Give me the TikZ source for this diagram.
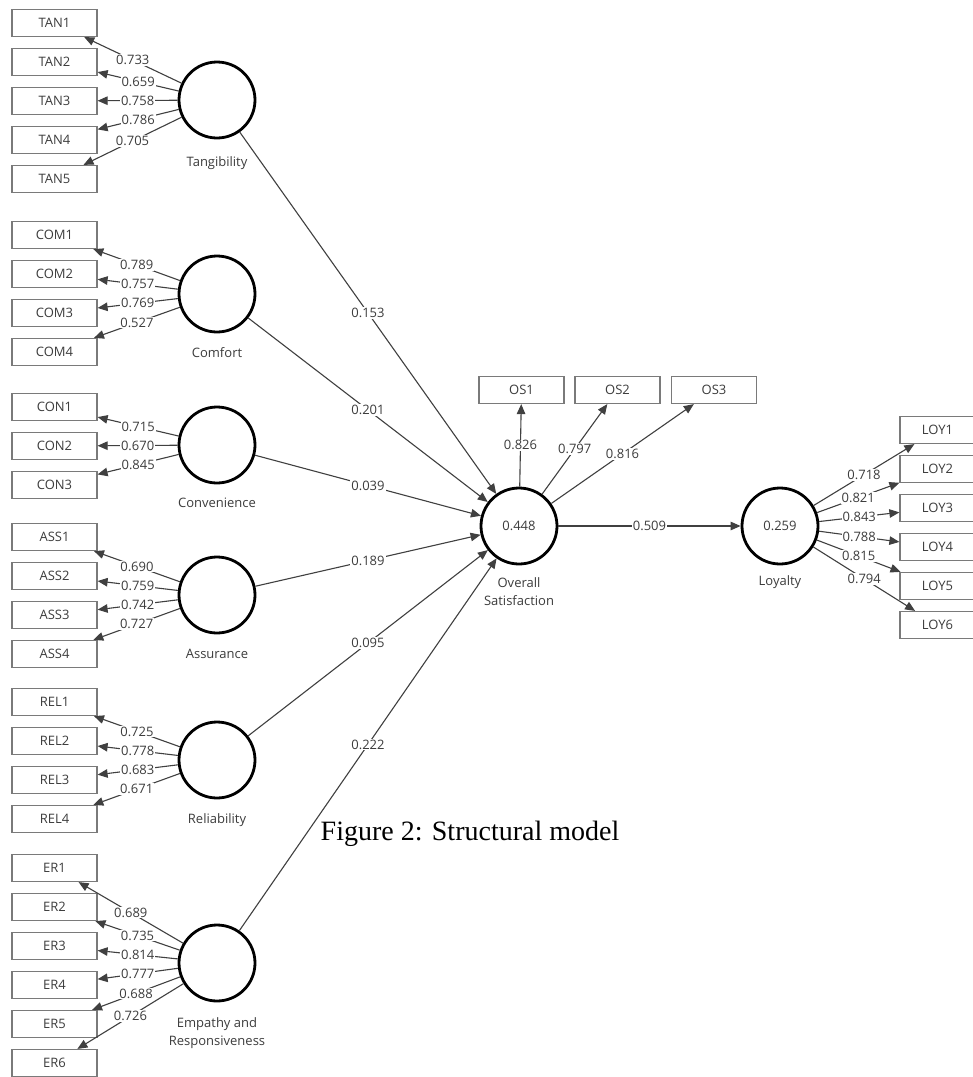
\documentclass[tikz,border=0pt]{standalone}
\usepackage{fontspec}
\setmainfont{Open Sans}
\newfontfamily\capfont{Liberation Serif}
\usetikzlibrary{arrows.meta}
\definecolor{txt}{HTML}{3C3C3C}
\definecolor{ln}{HTML}{404040}
\definecolor{bx}{HTML}{7A7A7A}
\begin{document}
\begin{tikzpicture}[x=1pt,y=-1pt,
 ind/.style={draw=bx,line width=1.2pt,minimum width=85pt,minimum height=27pt,inner sep=0pt,font=\fontsize{13}{14}\selectfont,text=txt},
 loyind/.style={ind,minimum width=75pt},
 lat/.style={circle,draw=black,line width=2.8pt,minimum size=76pt,inner sep=0pt,font=\fontsize{13}{14}\selectfont,text=txt},
 arr/.style={draw=ln,line width=1.1pt,-{Triangle[length=10pt,width=8.5pt]}},
 lab/.style={fill=white,inner sep=1pt,font=\fontsize{13}{14}\selectfont,text=txt},
 latcap/.style={font=\fontsize{13}{18}\selectfont,text=txt,align=center}]
\useasboundingbox[fill=white] (0,0) rectangle (973,1077);

% latent variables
\node[lat] (tan) at (217,100) {};
\node[lat] (com) at (217,294) {};
\node[lat] (con) at (217,445) {};
\node[lat] (ass) at (217,595) {};
\node[lat] (rel) at (217,760) {};
\node[lat] (er) at (217,963) {};
\node[lat] (os) at (519,526) {0.448};
\node[lat] (loy) at (780,526) {0.259};

% captions of latent variables
\node[latcap] (tanl) at (217,163) {Tangibility};
\node[latcap] (coml) at (217,353) {Comfort};
\node[latcap] (conl) at (217,503) {Convenience};
\node[latcap] (assl) at (217,654) {Assurance};
\node[latcap] (rell) at (217,820) {Reliability};
\node[latcap] (erl) at (217,1033) {Empathy and\\Responsiveness};
\node[latcap] (osl) at (519,592) {Overall\\Satisfaction};
\node[latcap] (loyl) at (780,582) {Loyalty};

% indicators
\node[ind] (tan1) at (54.5,23) {TAN1};
\node[ind] (tan2) at (54.5,62) {TAN2};
\node[ind] (tan3) at (54.5,101) {TAN3};
\node[ind] (tan4) at (54.5,140) {TAN4};
\node[ind] (tan5) at (54.5,179) {TAN5};

\node[ind] (com1) at (54.5,235) {COM1};
\node[ind] (com2) at (54.5,274) {COM2};
\node[ind] (com3) at (54.5,313) {COM3};
\node[ind] (com4) at (54.5,352) {COM4};

\node[ind] (con1) at (54.5,407) {CON1};
\node[ind] (con2) at (54.5,446) {CON2};
\node[ind] (con3) at (54.5,485) {CON3};

\node[ind] (ass1) at (54.5,537) {ASS1};
\node[ind] (ass2) at (54.5,576) {ASS2};
\node[ind] (ass3) at (54.5,615) {ASS3};
\node[ind] (ass4) at (54.5,654) {ASS4};

\node[ind] (rel1) at (54.5,702) {REL1};
\node[ind] (rel2) at (54.5,741) {REL2};
\node[ind] (rel3) at (54.5,780) {REL3};
\node[ind] (rel4) at (54.5,819) {REL4};

\node[ind] (er1) at (54.5,868) {ER1};
\node[ind] (er2) at (54.5,907) {ER2};
\node[ind] (er3) at (54.5,946) {ER3};
\node[ind] (er4) at (54.5,985) {ER4};
\node[ind] (er5) at (54.5,1024) {ER5};
\node[ind] (er6) at (54.5,1063) {ER6};

\node[ind] (os1) at (521.5,390) {OS1};
\node[ind] (os2) at (617.5,390) {OS2};
\node[ind] (os3) at (714,390) {OS3};

\node[loyind] (loy1) at (937.5,430) {LOY1};
\node[loyind] (loy2) at (937.5,469) {LOY2};
\node[loyind] (loy3) at (937.5,508) {LOY3};
\node[loyind] (loy4) at (937.5,547) {LOY4};
\node[loyind] (loy5) at (937.5,586) {LOY5};
\node[loyind] (loy6) at (937.5,625) {LOY6};

% outer loadings
\draw[arr] (tan) -- node[lab]{0.733} (tan1);
\draw[arr] (tan) -- node[lab]{0.659} (tan2);
\draw[arr] (tan) -- node[lab]{0.758} (tan3);
\draw[arr] (tan) -- node[lab]{0.786} (tan4);
\draw[arr] (tan) -- node[lab]{0.705} (tan5);

\draw[arr] (com) -- node[lab]{0.789} (com1);
\draw[arr] (com) -- node[lab]{0.757} (com2);
\draw[arr] (com) -- node[lab]{0.769} (com3);
\draw[arr] (com) -- node[lab]{0.527} (com4);

\draw[arr] (con) -- node[lab]{0.715} (con1);
\draw[arr] (con) -- node[lab]{0.670} (con2);
\draw[arr] (con) -- node[lab]{0.845} (con3);

\draw[arr] (ass) -- node[lab]{0.690} (ass1);
\draw[arr] (ass) -- node[lab]{0.759} (ass2);
\draw[arr] (ass) -- node[lab]{0.742} (ass3);
\draw[arr] (ass) -- node[lab]{0.727} (ass4);

\draw[arr] (rel) -- node[lab]{0.725} (rel1);
\draw[arr] (rel) -- node[lab]{0.778} (rel2);
\draw[arr] (rel) -- node[lab]{0.683} (rel3);
\draw[arr] (rel) -- node[lab]{0.671} (rel4);

\draw[arr] (er) -- node[lab]{0.689} (er1);
\draw[arr] (er) -- node[lab]{0.735} (er2);
\draw[arr] (er) -- node[lab]{0.814} (er3);
\draw[arr] (er) -- node[lab]{0.777} (er4);
\draw[arr] (er) -- node[lab]{0.688} (er5);
\draw[arr] (er) -- node[lab]{0.726} (er6);

\draw[arr] (os) -- node[lab]{0.826} (os1);
\draw[arr] (os) -- node[lab]{0.797} (os2);
\draw[arr] (os) -- node[lab]{0.816} (os3);

\draw[arr] (loy) -- node[lab]{0.718} (loy1);
\draw[arr] (loy) -- node[lab]{0.821} (loy2);
\draw[arr] (loy) -- node[lab]{0.843} (loy3);
\draw[arr] (loy) -- node[lab]{0.788} (loy4);
\draw[arr] (loy) -- node[lab]{0.815} (loy5);
\draw[arr] (loy) -- node[lab]{0.794} (loy6);

% path coefficients
\draw[arr] (tan) -- node[lab]{0.153} (os);
\draw[arr] (com) -- node[lab]{0.201} (os);
\draw[arr] (con) -- node[lab]{0.039} (os);
\draw[arr] (ass) -- node[lab]{0.189} (os);
\draw[arr] (rel) -- node[lab]{0.095} (os);
\draw[arr] (er) -- node[lab]{0.222} (os);
\draw[arr] (os) -- node[lab]{0.509} (loy);

% figure caption
\node[font=\capfont\fontsize{28}{32}\selectfont,text=black] (fig) at (470,834) {Figure 2: Structural model};
\end{tikzpicture}
\end{document}
